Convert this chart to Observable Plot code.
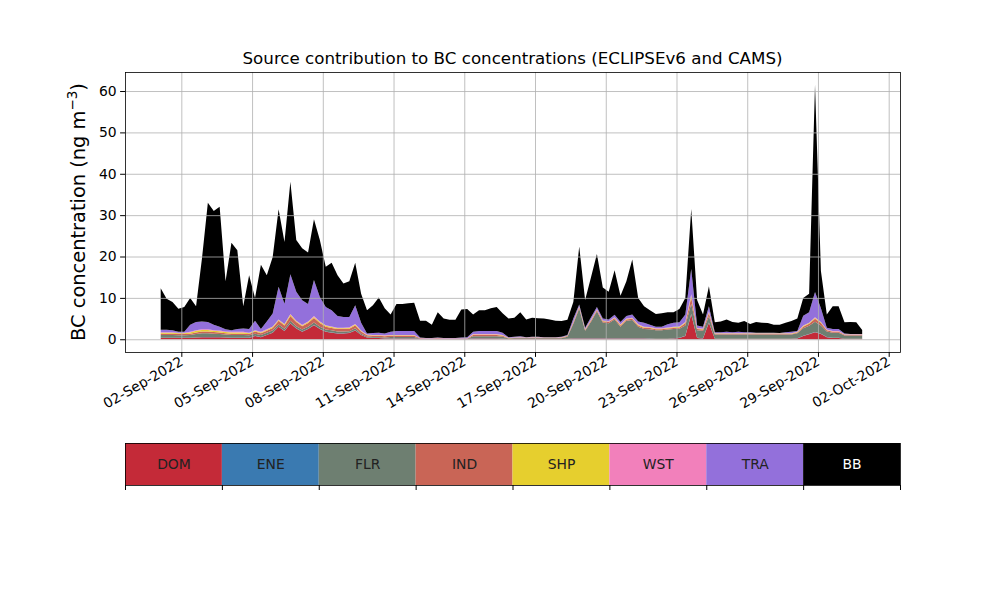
<!DOCTYPE html>
<html><head><meta charset="utf-8">
<script src="https://cdn.jsdelivr.net/npm/d3@7"></script>
<script src="https://cdn.jsdelivr.net/npm/@observablehq/plot@0.6"></script>
<style>
body{margin:0;background:#fff;font-family:"DejaVu Sans",sans-serif;}
#fig{position:relative;width:1000px;height:600px;overflow:hidden;background:#fff;}
#title{position:absolute;left:125px;width:775px;top:48px;text-align:center;font-size:16.7px;line-height:20px;color:#000;}
#ylabel{position:absolute;left:77px;top:212px;transform:translate(-50%,-50%) rotate(-90deg);font-size:19.4px;white-space:nowrap;color:#000;}
#ylabel sup{font-size:13.5px;}
#main{position:absolute;left:0;top:0;}
#legend{position:absolute;left:0;top:435px;}
</style></head><body>
<div id="fig">
 <div id="main"></div>
 <div id="legend"></div>
 <div id="title">Source contribution to BC concentrations (ECLIPSEv6 and CAMS)</div>
 <div id="ylabel">BC concentration (ng m<sup>−3</sup>)</div>
</div>
<script>
// Source categories (stack order bottom -> top) and colours
const sources = ["DOM", "ENE", "FLR", "IND", "SHP", "WST", "TRA", "BB"];
const colors  = ["#c42a38", "#3a7ab1", "#6e7f71", "#c96556", "#e6cf2e", "#f280bb", "#9370db", "#000000"];

// 6-hourly values, 1 Sep 2022 03 UTC .. 30 Sep 2022 21 UTC (one row = one day, 4 values)
const DOM = [
 .3,.3,.3,.3,  .3,.3,.4,.5,  .5,.5,.5,.4,  .3,.3,.3,.3,
 .8,.5,1.0,1.6,  3.0,2.0,3.8,2.6,  1.8,2.5,3.4,2.5,  1.8,1.6,1.4,1.4,  1.5,2.1,1.0,.4,
 .3,.3,.2,.2,  .2,.2,.2,.2,  .05,.05,.05,.05,  .05,.05,.05,.05,  .05,.2,.2,.2,
 .2,.2,.15,.05,  .05,.05,.05,.05,  .05,.05,.05,.05,  .05,.1,.2,.2,  .2,.2,.2,.2,
 .2,.2,.2,.2,  .2,.2,.2,.15,  .1,.1,.1,.2,  .3,.8,6.0,.3,  .2,4.0,.1,.1,
 .1,.1,.1,.1,  .1,.1,.1,.1,  .1,.1,.1,.1,  .2,.8,1.2,1.7,  1.3,.5,.3,.3,  .1,.1,.1,.1
];
const ENE = [
 .05,.05,.05,.05,  .05,.05,.05,.05,  .05,.05,.05,.05,  .05,.05,.05,.05,
 .05,.05,.05,.05,  .05,.05,.05,.05,  .05,.05,.05,.05,  .05,.05,.05,.05,  .05,.05,.05,.05,
 .05,.05,.05,.05,  .05,.05,.05,.05,  .02,.02,.02,.02,  .02,.02,.02,.02,  .02,.05,.05,.05,
 .05,.05,.05,.02,  .02,.02,.02,.02,  .02,.02,.02,.02,  .02,.02,.05,.05,  .05,.05,.05,.05,
 .05,.05,.05,.05,  .05,.05,.05,.05,  .05,.05,.05,.05,  .05,.05,.1,.05,  .05,.05,.03,.03,
 .03,.03,.03,.03,  .03,.03,.03,.03,  .03,.03,.03,.03,  .03,.05,.05,.05,  .05,.05,.05,.05,  .03,.03,.03,.03
];
const FLR = [
 .7,.7,.7,.6,  .6,.7,.8,.9,  .9,.8,.7,.7,  .7,.7,.7,.6,
 .5,.5,.5,.5,  .5,.5,.6,.5,  .5,.5,.6,.5,  .5,.5,.4,.4,  .4,.5,.3,.2,
 .2,.2,.2,.3,  .3,.3,.3,.3,  .05,.05,.05,.05,  .05,.05,.05,.05,  .05,.5,.5,.5,
 .5,.5,.4,.1,  .15,.2,.15,.2,  .2,.15,.15,.15,  .2,.5,3.5,7.2,  1.8,4.0,6.5,3.8,
 3.6,4.5,2.8,4.2,  4.4,2.8,2.2,2.2,  2.0,2.0,2.2,2.2,  2.2,2.5,2.5,1.8,  1.8,1.5,1.0,1.0,
 1.0,1.0,1.0,1.0,  1.0,1.0,1.0,1.0,  1.0,1.0,1.0,1.0,  1.2,1.8,2.0,2.5,  2.0,1.3,1.2,1.2,  .8,.8,.8,.8
];
const IND = [
 .3,.3,.3,.3,  .3,.3,.4,.4,  .4,.4,.4,.3,  .3,.3,.3,.3,
 .5,.4,.5,.6,  .9,.8,1.2,1.0,  .8,.9,1.1,.9,  .7,.6,.6,.6,  .6,.7,.5,.3,
 .3,.3,.3,.3,  .3,.3,.3,.3,  .1,.05,.05,.1,  .05,.05,.05,.05,  .05,.3,.3,.3,
 .3,.3,.25,.1,  .1,.1,.1,.1,  .1,.1,.1,.1,  .1,.15,.3,.3,  .2,.3,.3,.3,
 .3,.3,.3,.3,  .3,.3,.3,.3,  .25,.25,.25,.3,  .3,.5,1.5,.3,  .3,.8,.15,.15,
 .15,.15,.15,.15,  .15,.15,.15,.15,  .15,.15,.15,.15,  .2,.4,.5,.7,  .6,.3,.25,.25,  .15,.15,.15,.15
];
const SHP = [
 .2,.2,.2,.2,  .2,.3,.4,.4,  .4,.3,.3,.3,  .3,.3,.3,.2,
 .2,.2,.2,.2,  .2,.2,.25,.2,  .2,.2,.25,.2,  .2,.2,.2,.2,  .2,.2,.15,.1,
 .1,.1,.1,.1,  .1,.1,.1,.1,  .05,.03,.03,.05,  .03,.03,.03,.03,  .03,.1,.1,.1,
 .1,.1,.1,.05,  .05,.05,.05,.05,  .05,.05,.05,.05,  .05,.05,.1,.1,  .1,.1,.1,.1,
 .1,.15,.15,.15,  .15,.15,.15,.15,  .15,.15,.15,.15,  .15,.2,.4,.15,  .15,.2,.1,.1,
 .1,.1,.1,.1,  .1,.1,.1,.1,  .1,.1,.1,.1,  .1,.15,.15,.2,  .15,.1,.1,.1,  .07,.07,.07,.07
];
const WST = [
 .15,.15,.15,.15,  .15,.15,.15,.15,  .15,.15,.15,.15,  .15,.15,.15,.15,
 .15,.15,.15,.15,  .15,.15,.2,.15,  .15,.15,.2,.15,  .15,.15,.15,.15,  .15,.15,.1,.1,
 .1,.1,.1,.1,  .1,.1,.1,.1,  .05,.05,.05,.05,  .05,.05,.05,.05,  .05,.1,.1,.1,
 .1,.1,.1,.05,  .05,.05,.05,.05,  .05,.05,.05,.05,  .05,.05,.1,.1,  .1,.1,.1,.1,
 .1,.1,.1,.1,  .1,.1,.1,.1,  .1,.1,.1,.1,  .1,.15,.4,.1,  .1,.2,.07,.07,
 .07,.07,.07,.07,  .07,.07,.07,.07,  .07,.07,.07,.07,  .07,.1,.1,.15,  .1,.1,.1,.1,  .05,.05,.05,.05
];
const TRA = [
 .6,.6,.5,.2,  .2,1.7,2.0,1.9,  1.8,1.3,.9,.5,  .4,.7,.8,.9,
 2.3,.7,1.9,3.1,  7.9,4.9,9.6,7.0,  5.9,4.2,8.7,5.9,  4.4,3.9,2.8,2.6,  2.5,4.5,1.9,.25,
 .45,.55,.45,.75,  .95,.95,.95,.95,  .08,.05,.05,.08,  .05,.05,.05,.15,  .25,.55,.75,.75,
 .75,.75,.55,.13,  .18,.23,.08,.13,  .13,.08,.08,.08,  .13,.13,.75,.45,  .35,.55,.55,.45,
 .45,.6,.6,.6,  .8,.7,1.0,.55,  .35,.35,.75,1.0,  1.0,1.8,6.1,.6,  .4,1.25,.25,.25,
 .35,.25,.35,.25,  .25,.15,.15,.15,  .15,.05,.25,.35,  .2,2.4,2.5,6.1,  3.3,.45,.5,.5,  .2,.1,.1,.05
];
const BB = [
 10.0,7.5,6.8,5.6,  6.0,6.5,3.8,15.2,  28.8,27.5,29.0,11.6,  21.1,19.0,5.4,13.0,
 5.5,15.5,11.2,13.7,  18.7,14.9,22.4,12.5,  12.6,12.5,14.7,13.8,  9.7,11.5,9.9,8.1,  8.6,10.3,7.0,5.6,
 6.7,8.5,6.1,4.2,  6.5,6.5,6.7,6.8,  4.1,4.2,3.2,6.1,  4.7,4.4,4.4,6.8,  6.8,4.2,5.0,5.0,
 5.5,5.8,4.7,4.5,  4.6,5.8,4.3,4.6,  4.5,4.5,4.3,4.0,  3.8,3.7,4.0,14.0,  6.7,9.7,12.8,7.5,
 6.7,10.8,6.3,8.4,  13.3,5.7,4.0,3.5,  3.1,3.3,2.9,2.5,  3.2,4.0,14.5,6.2,  3.0,4.8,2.4,2.6,
 3.0,2.5,2.2,2.7,  2.0,2.6,2.4,2.3,  1.9,2.0,2.3,2.6,  3.0,4.3,4.5,50.1,  9.0,3.2,5.5,5.5,  2.7,2.9,2.8,1.0
];
const seriesValues = [DOM, ENE, FLR, IND, SHP, WST, TRA, BB];

// Axis ticks
const xTickLabels = ["2022-09-02","2022-09-05","2022-09-08","2022-09-11","2022-09-14","2022-09-17",
                     "2022-09-20","2022-09-23","2022-09-26","2022-09-29","2022-10-02"];
const yTickValues = [0, 10, 20, 30, 40, 50, 60];

// time stamps of the samples
const t0 = Date.UTC(2022, 8, 1, 3);
const times = DOM.map((_, i) => new Date(t0 + i * 6 * 3600 * 1000));
const xTicks = xTickLabels.map(s => new Date(s + "T00:00:00Z"));

const data = [];
sources.forEach((s, k) => seriesValues[k].forEach((v, i) => data.push({time: times[i], source: s, value: v})));

const fmt = d3.utcFormat("%d-%b-%Y");
const gridStyle = {stroke: "#b0b0b0", strokeOpacity: 1, strokeWidth: 0.8};

const main = Plot.plot({
  width: 1000, height: 440,
  marginLeft: 125, marginRight: 100, marginTop: 72, marginBottom: 88,
  style: {fontFamily: "DejaVu Sans", fontSize: "13.9px", background: "transparent", color: "black"},
  x: {type: "utc", domain: [new Date(Date.UTC(2022, 7, 30, 14, 40)), new Date(Date.UTC(2022, 9, 2, 11, 30))]},
  y: {domain: [-3.08, 64.6]},
  color: {domain: sources, range: colors},
  marks: [
    Plot.areaY(data, {x: "time", y: "value", fill: "source", z: "source", order: sources}),
    Plot.gridX(xTicks, gridStyle),
    Plot.gridY(yTickValues, gridStyle),
    Plot.frame({stroke: "black", strokeWidth: 0.8}),
    Plot.axisY(yTickValues, {tickSize: 4.9, tickPadding: 4, label: null}),
    Plot.axisX(xTicks, {tickSize: 4.9, tickPadding: 3, tickRotate: -30, tickFormat: fmt, label: null})
  ]
});
document.getElementById("main").appendChild(main);

const idx = sources.map((_, i) => i);
const legend = Plot.plot({
  width: 1000, height: 60,
  marginLeft: 125, marginRight: 100, marginTop: 8, marginBottom: 10,
  style: {fontFamily: "DejaVu Sans", fontSize: "13.9px", background: "transparent", color: "black"},
  x: {domain: [0, 8]},
  y: {domain: [0, 1], axis: null},
  color: {domain: sources, range: colors},
  marks: [
    Plot.rect(idx, {x1: i => i, x2: i => i + 1, y1: 0, y2: 1, fill: i => sources[i]}),
    Plot.text(idx.filter(i => sources[i] !== "BB"), {x: i => i + 0.5, y: 0.5, text: i => sources[i], fill: "#222", fontSize: 13.9}),
    Plot.text(idx.filter(i => sources[i] === "BB"), {x: i => i + 0.5, y: 0.5, text: i => sources[i], fill: "white", fontSize: 13.9}),
    Plot.frame({stroke: "black", strokeWidth: 0.8}),
    Plot.axisX(d3.range(9), {tickSize: 5, tickFormat: () => "", label: null})
  ]
});
document.getElementById("legend").appendChild(legend);
</script>
</body></html>
